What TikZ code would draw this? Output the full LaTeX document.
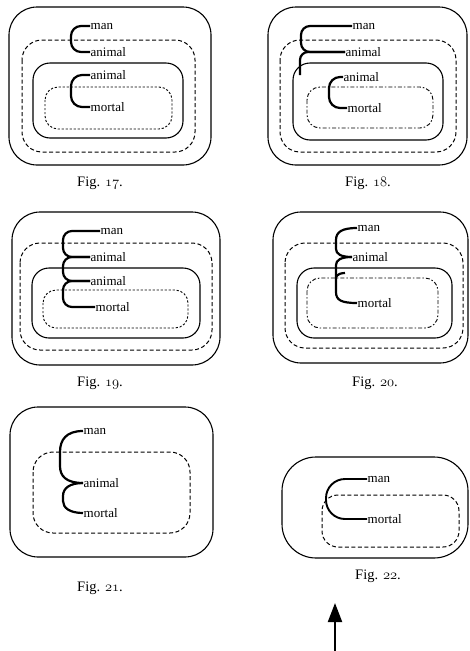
\documentclass[tikz,border=0pt]{standalone}
\usepackage{fontspec}
\setmainfont{Liberation Serif}
\usetikzlibrary{arrows.meta}
\newcommand{\osn}[1]{$\mathnormal{#1}$}
\begin{document}
\begin{tikzpicture}[x=1pt,y=-1pt,
  outer/.style={draw,line width=1.1pt,rounded corners=28pt},
  dsh/.style={draw,line width=1pt,dash pattern=on 4pt off 2.5pt,rounded corners=20pt},
  sol/.style={draw,line width=1.1pt,rounded corners=17pt},
  dotbox/.style={draw,line width=0.9pt,dash pattern=on 2.2pt off 1.8pt,rounded corners=13pt},
  dashdot/.style={draw,line width=0.9pt,dash pattern=on 4pt off 2pt on 1.5pt off 2pt,rounded corners=13pt},
  brk/.style={draw,line width=2.2pt},
  lbl/.style={anchor=west,inner sep=0.5pt,font=\fontsize{13}{15}\selectfont},
  figcap/.style={inner sep=0pt,font=\fontsize{14.5}{16}\selectfont}]
\useasboundingbox (0,0) rectangle (470,651);

% ---------- Fig. 17 ----------
\draw[outer] (9,7) rectangle (211,165);
\draw[dsh] (22,40) rectangle (195,152);
\draw[sol] (33,63) rectangle (183,138);
\draw[dotbox] (45,87) rectangle (172,129);
\node[lbl] (m17) at (90,26) {man};
\node[lbl] (a17) at (90,52) {animal};
\node[lbl] (b17) at (90,75) {animal};
\node[lbl] (o17) at (90,107) {mortal};
\draw[brk,rounded corners=10pt] (m17.west) -- ++(-19,0) |- (a17.west);
\draw[brk,rounded corners=11pt] (b17.west) -- ++(-19,0) |- (o17.west);
\node[figcap] (c17) at (100,183) {Fig. \osn{17}.};

% ---------- Fig. 18 ----------
\draw[outer] (268,7) rectangle (467,165);
\draw[dsh] (280,40) rectangle (456,152);
\draw[sol] (293,63) rectangle (443,140);
\draw[dashdot] (307,87) rectangle (433,128);
\node[lbl] (m18) at (352,26) {man};
\node[lbl] (a18) at (345,52) {animal};
\node[lbl] (b18) at (343,77) {animal};
\node[lbl] (o18) at (347,108) {mortal};
\draw[brk,rounded corners=9pt] (m18.west) -| (301,52) -- (a18.west);
\draw[brk,rounded corners=8pt] (a18.west) -| (300,75);
\draw[brk,rounded corners=11pt] (b18.west) -- ++(-14,0) |- (o18.west);
\node[figcap] (c18) at (368,183) {Fig. \osn{18}.};

% ---------- Fig. 19 ----------
\draw[outer] (12,212) rectangle (220,365);
\draw[dsh] (20,243) rectangle (212,350);
\draw[sol] (32,268) rectangle (200,338);
\draw[dotbox] (43,290) rectangle (188,328);
\node[lbl] (m19) at (100,231) {man};
\node[lbl] (a19) at (90,257) {animal};
\node[lbl] (b19) at (90,281) {animal};
\node[lbl] (o19) at (95,307) {mortal};
\draw[brk,rounded corners=9pt] (m19.west) -| (63,257) -- (a19.west);
\draw[brk,rounded corners=9pt] (a19.west) -| (63,281) -- (b19.west);
\draw[brk,rounded corners=9pt] (b19.west) -| (63,307) -- (o19.west);
\node[figcap] (c19) at (100,383) {Fig. \osn{19}.};

% ---------- Fig. 20 ----------
\draw[outer] (273,212) rectangle (468,363);
\draw[dsh] (285,243) rectangle (463,348);
\draw[sol] (297,268) rectangle (452,338);
\draw[dashdot] (307,278) rectangle (438,328);
\node[lbl] (m20) at (357,228) {man};
\node[lbl] (a20) at (352,257) {animal};
\node[lbl] (o20) at (357,303) {mortal};
\draw[brk] (m20.west) .. controls (342,228) and (336,232) .. (336,240) -- (336,249)
  .. controls (336,254) and (341,257) .. (a20.west);
\draw[brk] (a20.west) .. controls (341,257) and (336,260) .. (336,265) -- (336,292)
  .. controls (336,300) and (341,303) .. (o20.west);
\draw[brk] (336,277) .. controls (338,274) and (341,273) .. (345,273);
\node[figcap] (c20) at (375,383) {Fig. \osn{20}.};

% ---------- Fig. 21 ----------
\draw[outer] (10,407) rectangle (213,557);
\draw[dsh] (33,452) rectangle (190,533);
\node[lbl] (m21) at (83,431) {man};
\node[lbl] (a21) at (83,483) {animal};
\node[lbl] (o21) at (83,513) {mortal};
\draw[brk] (m21.west) .. controls (66,431) and (60,440) .. (60,452) -- (60,466)
  .. controls (60,476) and (66,483) .. (a21.west);
\draw[brk] (a21.west) .. controls (70,483) and (63,488) .. (63,496) -- (63,501)
  .. controls (63,508) and (70,513) .. (o21.west);
\node[figcap] (c21) at (100,588) {Fig. \osn{21}.};

% ---------- Fig. 22 ----------
\draw[outer,rounded corners=34pt] (282,457) rectangle (468,558);
\draw[dsh,rounded corners=16pt] (322,495) rectangle (459,547);
\node[lbl] (m22) at (367,479) {man};
\node[lbl] (o22) at (367,519) {mortal};
\draw[brk,line width=1.9pt,rounded corners=19pt] (m22.west) -- (326,479) -- (326,519) -- (o22.west);
\node[figcap] (c22) at (378,576) {Fig. \osn{22}.};

% ---------- arrow ----------
\coordinate (arrB) at (335,651);
\coordinate (arrT) at (335,603);
\draw[line width=2pt,-{Triangle[length=19pt,width=14pt]}] (arrB) -- (arrT);
\end{tikzpicture}
\end{document}
